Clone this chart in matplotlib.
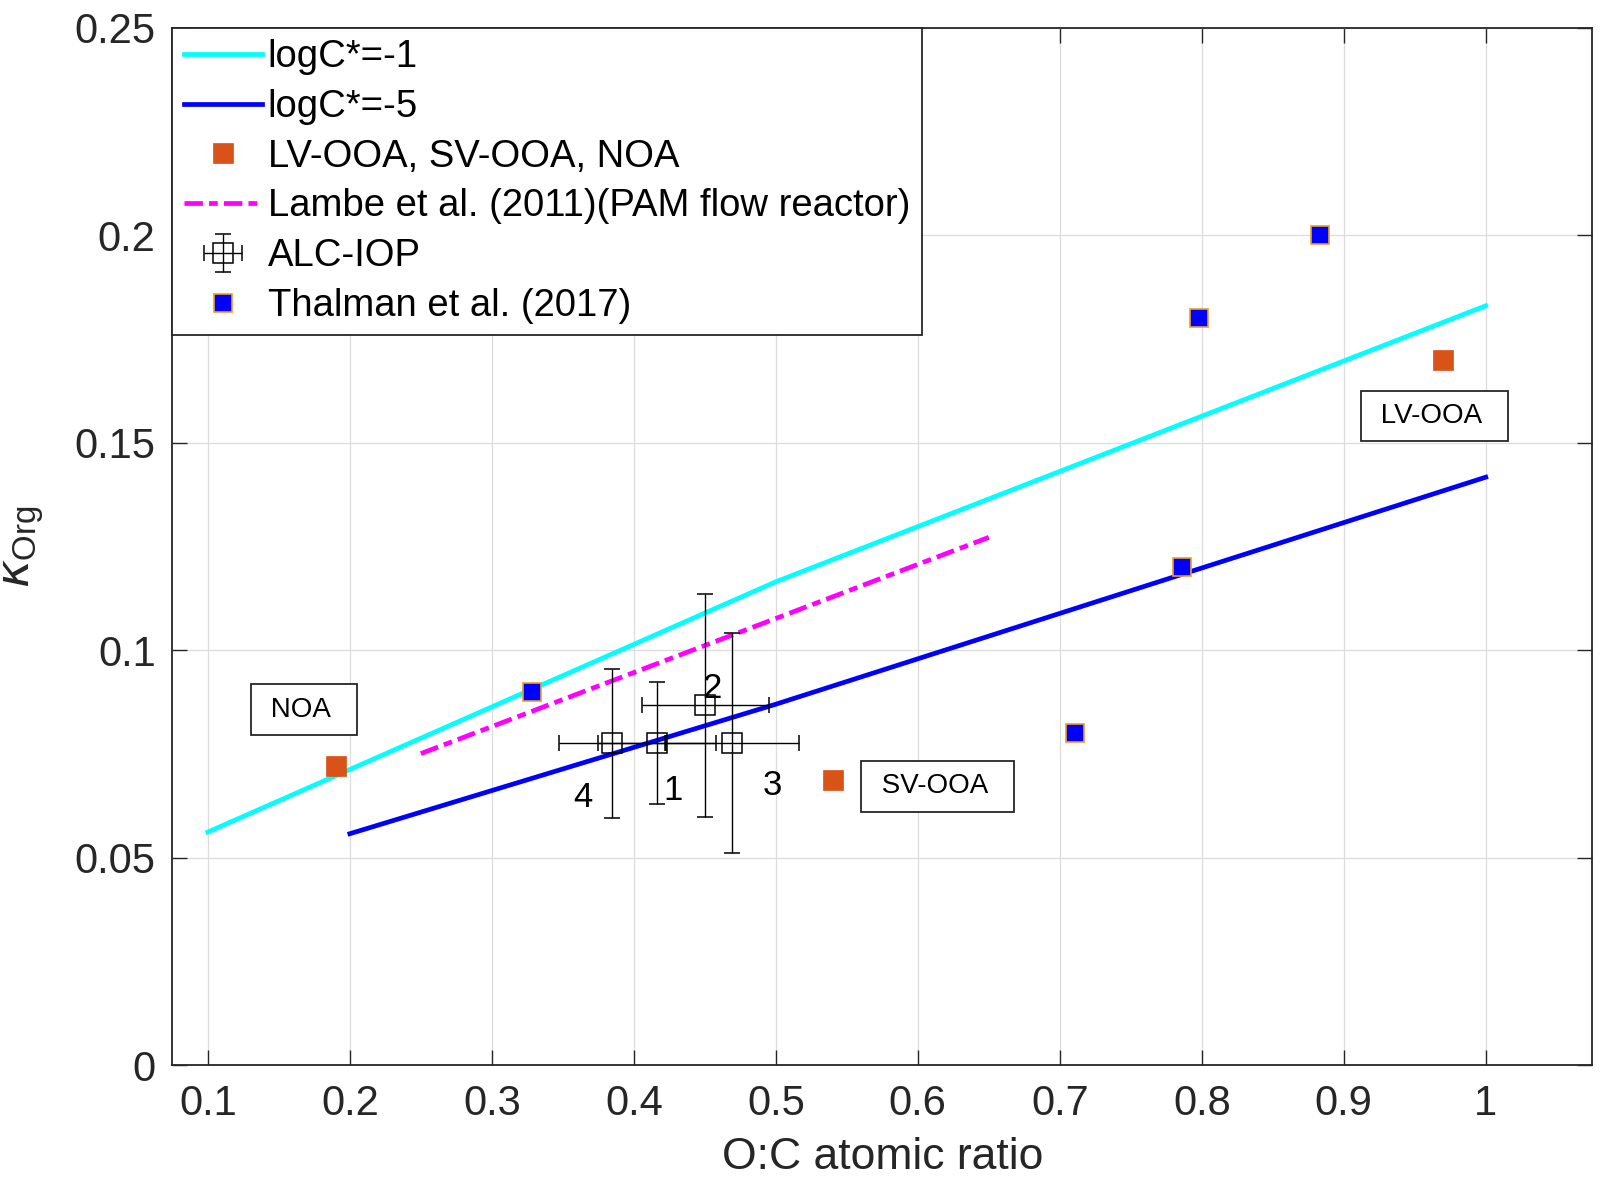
import matplotlib
matplotlib.use("Agg")
import matplotlib.pyplot as plt
from matplotlib.ticker import FuncFormatter

plt.rcParams['font.family'] = ['Liberation Sans', 'DejaVu Sans']
plt.rcParams['mathtext.fontset'] = 'custom'
plt.rcParams['mathtext.rm'] = 'Liberation Sans'
plt.rcParams['mathtext.it'] = 'DejaVu Sans:italic'

# ---- data ----
oc_logc1 = [0.1, 0.5, 1.0]
kappa_logc1 = [0.0562, 0.1165, 0.1830]

oc_logc5 = [0.2, 0.5, 1.0]
kappa_logc5 = [0.0558, 0.0870, 0.1417]

oc_factors = [0.97, 0.54, 0.19]
kappa_factors = [0.170, 0.0688, 0.072]
factor_names = ['LV-OOA', 'SV-OOA', 'NOA']
factor_label_pos = [(0.9205, 0.1547), (0.5689, 0.0655), (0.1388, 0.0840)]

oc_lambe = [0.25, 0.65]
kappa_lambe = [0.0751, 0.1272]

alc_ids = ['1', '2', '3', '4']
oc_alc = [0.4164, 0.4504, 0.4692, 0.3848]
kappa_alc = [0.0777, 0.0867, 0.0777, 0.0776]
oc_alc_err = [0.0413, 0.0449, 0.0469, 0.0378]
kappa_alc_err = [0.0147, 0.0268, 0.0265, 0.0180]
alc_id_pos = [(0.4277, 0.0663), (0.4553, 0.0908), (0.4973, 0.0675), (0.3644, 0.0646)]

oc_thalman = [0.3285, 0.711, 0.786, 0.798, 0.883]
kappa_thalman = [0.090, 0.080, 0.120, 0.180, 0.200]

xticks = [0.1, 0.2, 0.3, 0.4, 0.5, 0.6, 0.7, 0.8, 0.9, 1.0]
yticks = [0, 0.05, 0.1, 0.15, 0.2, 0.25]

# ---- figure ----
fig = plt.figure(figsize=(16.08, 11.99), dpi=100)
ax = fig.add_axes([0.1072, 0.1115, 0.9902 - 0.1072, 0.9769 - 0.1115])

dark = '#262626'
orange = '#D95319'

h1, = ax.plot(oc_logc1, kappa_logc1, color=(0, 1, 1), lw=3.4, label='logC*=-1', zorder=3)
h2, = ax.plot(oc_logc5, kappa_logc5, color=(0, 0, 1), lw=3.4, label='logC*=-5', zorder=3)
h3, = ax.plot(oc_factors, kappa_factors, ls='none', marker='s', ms=15, mfc=orange,
              mec=orange, mew=0.5, label='LV-OOA, SV-OOA, NOA', zorder=4)
h4, = ax.plot(oc_lambe, kappa_lambe, color=(1, 0, 1), lw=3.4,
              ls=(0, (3.9, 1.3, 1.85, 1.3)),
              label='Lambe et al. (2011)(PAM flow reactor)', zorder=3)
h5 = ax.errorbar(oc_alc, kappa_alc, xerr=oc_alc_err, yerr=kappa_alc_err, fmt='s',
                 ms=14.4, mfc='none', mec='black', mew=1.1, ecolor='black',
                 elinewidth=1.0, capsize=5.6, capthick=1.0, label='ALC-IOP', zorder=5)
h6, = ax.plot(oc_thalman, kappa_thalman, ls='none', marker='s', ms=13, mfc=(0, 0, 1),
              mec='#EDA020', mew=1.2, label='Thalman et al. (2017)', zorder=4)

for name, (tx, ty) in zip(factor_names, factor_label_pos):
    ax.text(tx, ty, ' ' + name + '  ', fontsize=20, ha='left', va='baseline',
            color='black', zorder=6,
            bbox=dict(boxstyle='square,pad=0.44', fc='white', ec=dark, lw=1.3))

for lab, (tx, ty) in zip(alc_ids, alc_id_pos):
    ax.text(tx, ty, lab, fontsize=25, ha='center', va='center', color='black', zorder=6)

ax.set_xlim(0.075, 1.075)
ax.set_ylim(0, 0.25)
ax.set_xticks(xticks)
ax.set_yticks(yticks)
fmt = FuncFormatter(lambda v, p: '%g' % round(v, 4))
ax.xaxis.set_major_formatter(fmt)
ax.yaxis.set_major_formatter(fmt)

ax.tick_params(direction='in', length=10.6, width=1.0, colors=dark,
               labelsize=30, top=True, right=True)
ax.tick_params(axis='x', pad=13.5)
ax.tick_params(axis='y', pad=12)
ax.grid(True, color='#dcdcdc', lw=0.9)
ax.set_axisbelow(True)
for s in ax.spines.values():
    s.set_color(dark)
    s.set_linewidth(1.3)

ax.set_xlabel('O:C atomic ratio', fontsize=32, color=dark, labelpad=9)
ax.set_ylabel(r'$\kappa_{\mathrm{Org}}$', fontsize=34, color=dark)
ax.yaxis.set_label_coords(-0.089, 0.5)

handles = [h1, h2, h3, h4, h5, h6]
labels = [h.get_label() for h in handles]
leg = ax.legend(handles, labels, loc='upper left', bbox_to_anchor=(0, 1), borderaxespad=0,
                fontsize=27.5, frameon=True, fancybox=False, framealpha=1,
                edgecolor=dark, numpoints=1, handlelength=2.05,
                handletextpad=0.15, labelspacing=0.36, borderpad=0.3)
leg.get_frame().set_linewidth(1.3)
leg.set_zorder(10)

fig.savefig('out.png', dpi=100)
